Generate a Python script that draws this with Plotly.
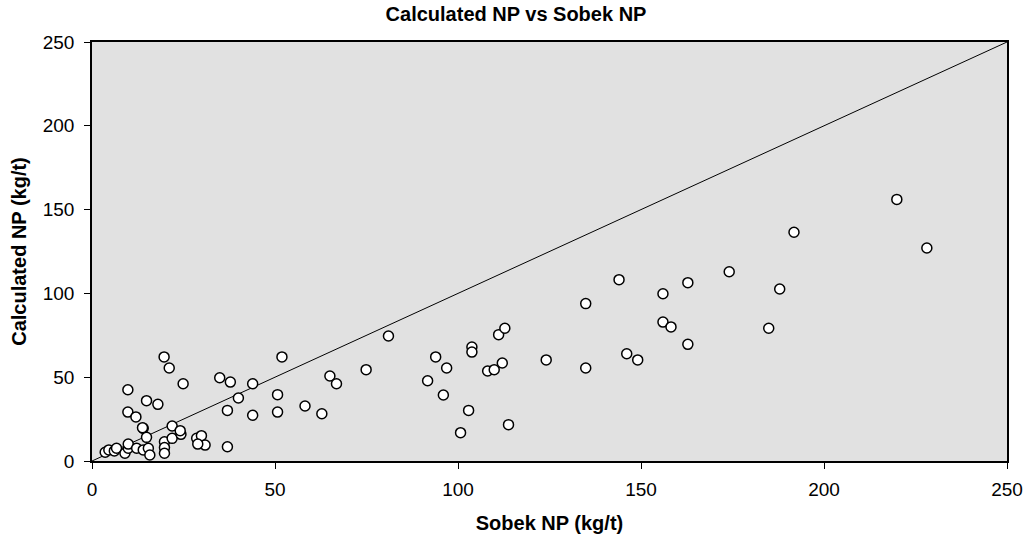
import plotly.graph_objects as go

# Sobek NP (kg/t) against calculated NP (kg/t)
sobek_np = [
    3.6, 4.6, 6.1, 6.7, 9.0, 9.9, 9.9, 12.2, 14.0, 15.4, 15.8,
    14.0, 14.9, 19.8, 19.8, 19.8, 21.9, 21.9, 24.3, 24.1, 28.6, 29.9, 30.9,
    19.7, 21.1, 24.9, 9.8, 14.9, 18.0, 9.8, 12.0, 13.8, 37.0,
    34.9, 37.8, 40.0, 43.9, 37.0, 43.9, 50.7, 50.7, 51.9,
    28.9,
    58.2, 62.8, 65.0, 66.8, 74.9, 81.0,
    93.9, 91.7, 96.9, 96.0, 100.7, 102.9,
    103.8, 103.8, 111.1, 112.8, 108.1, 109.9, 112.1, 113.8, 124.1,
    134.9, 134.9, 146.1, 149.1,
    144.0, 156.0, 162.8, 174.1, 187.9, 156.0, 158.2, 162.8, 184.9,
    191.8, 219.9, 228.1,
]
calculated_np = [
    5.2, 6.6, 6.0, 7.6, 4.6, 7.6, 10.1, 7.6, 6.6, 7.6, 3.6,
    19.5, 14.1, 11.5, 8.0, 4.6, 13.5, 20.9, 15.9, 18.1, 13.5, 15.1, 9.5,
    62.1, 55.5, 46.1, 42.5, 36.0, 33.8, 29.2, 26.3, 19.9, 8.5,
    49.7, 47.1, 37.6, 46.1, 30.2, 27.3, 39.6, 29.2, 62.1,
    10.1,
    32.8, 28.2, 50.7, 46.1, 54.5, 74.6,
    62.1, 47.9, 55.5, 39.4, 16.9, 30.2,
    68.0, 65.0, 75.4, 79.2, 53.7, 54.5, 58.5, 21.7, 60.3,
    93.9, 55.5, 64.0, 60.3,
    108.2, 99.8, 106.4, 112.9, 102.6, 82.9, 80.0, 69.6, 79.2,
    136.5, 156.1, 127.1,
]
# 1:1 reference line
parity = [0, 250]

FONT = "Liberation Sans, Arial, sans-serif"

fig = go.Figure()
fig.add_trace(go.Scatter(
    x=parity, y=parity, mode="lines",
    line=dict(color="black", width=1),
    hoverinfo="skip", showlegend=False,
))
fig.add_trace(go.Scatter(
    x=sobek_np, y=calculated_np, mode="markers",
    marker=dict(symbol="circle", size=10, color="white",
                line=dict(color="black", width=1.5)),
    showlegend=False,
))

axis_common = dict(
    range=[0, 250], dtick=50, tick0=0,
    showgrid=False, zeroline=False, automargin=False,
    showline=True, linecolor="black", linewidth=1.5, mirror=True,
    ticks="outside", ticklen=6, tickcolor="black", tickwidth=1,
    tickfont=dict(family=FONT, size=19, color="black"),
)

fig.update_layout(
    width=1032, height=540,
    margin=dict(l=92, r=25, t=42, b=79),
    paper_bgcolor="white",
    plot_bgcolor="#e1e1e1",
    title=dict(
        text="<b>Calculated NP vs Sobek NP</b>",
        x=0.5, xanchor="center", y=0.974, yanchor="middle",
        font=dict(family=FONT, size=20, color="black"),
    ),
    xaxis=dict(
        **axis_common,
        ticklabelstandoff=4,
        title=dict(text="<b>Sobek NP (kg/t)</b>",
                   font=dict(family=FONT, size=20, color="black"),
                   standoff=17),
    ),
    yaxis=dict(
        **axis_common,
        ticklabelstandoff=6,
        title=dict(text="<b>Calculated NP (kg/t)</b>",
                   font=dict(family=FONT, size=20, color="black"),
                   standoff=11),
    ),
)

fig.write_html("out.html")
